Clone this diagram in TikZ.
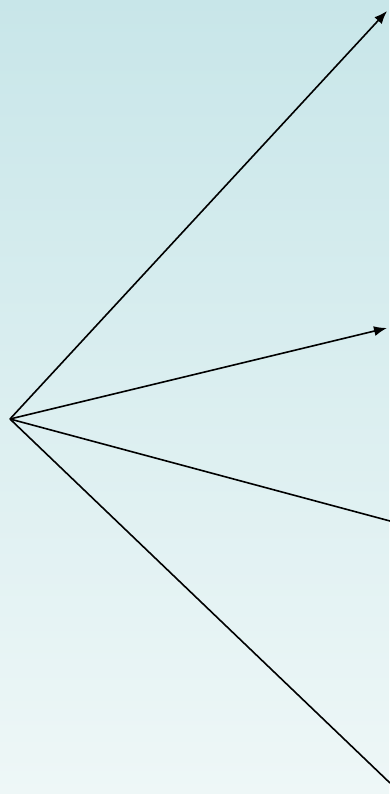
\documentclass[tikz,border=0pt]{standalone}
\usetikzlibrary{arrows.meta}
\definecolor{bgtop}{RGB}{200,230,233}
\definecolor{bgbot}{RGB}{238,247,247}
\tikzset{ray/.style={line width=1.6pt,black},
  arr/.style={ray,-{Latex[length=13pt,width=10pt]}}}
\begin{document}
\begin{tikzpicture}[x=1pt,y=-1pt]
\shade[top color=bgtop,bottom color=bgbot] (0,0) rectangle (389,794);
\useasboundingbox (0,0) rectangle (389,794);
\coordinate (o) at (10,419);
\coordinate (a) at (387,11);
\coordinate (b) at (387,328);
\coordinate (c) at (390,521);
\coordinate (d) at (390,783);
\draw[arr] (o) -- (a);
\draw[arr] (o) -- (b);
\draw[ray] (o) -- (c);
\draw[ray] (o) -- (d);
\end{tikzpicture}
\end{document}
